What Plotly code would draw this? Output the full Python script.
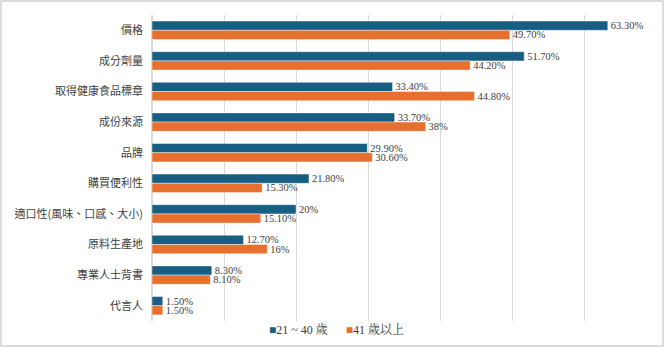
import plotly.graph_objects as go

categories = ["價格", "成分劑量", "取得健康食品標章", "成份來源", "品牌",
              "購買便利性", "適口性(風味、口感、大小)", "原料生產地", "專業人士背書", "代言人"]
series_names = ["21 ~ 40 歲", "41 歲以上"]
young = [63.3, 51.7, 33.4, 33.7, 29.9, 21.8, 20.0, 12.7, 8.3, 1.5]
older = [49.7, 44.2, 44.8, 38.0, 30.6, 15.3, 15.1, 16.0, 8.1, 1.5]
colors = ["#175E82", "#E8702F"]


def fmt(v):
    return f"{v:.0f}%" if float(v).is_integer() else f"{v:.2f}%"


FONT = "Liberation Serif, Noto Serif CJK TC, Noto Sans CJK TC, serif"

fig = go.Figure()
for name, vals, c in zip(series_names, [young, older], colors):
    fig.add_trace(go.Bar(
        y=categories, x=vals, orientation="h", name=name, showlegend=False,
        marker=dict(color=c, line=dict(color="rgba(255,255,255,0.7)", width=0.6)),
        text=[fmt(v) for v in vals], textposition="outside", cliponaxis=False,
        constraintext="none",
        textfont=dict(family=FONT, size=10.5, color="#404040"),
    ))

W, H = 665, 347
ml, mr, mt, mb = 152, 9, 15, 26
pw, ph = W - ml - mr, H - mt - mb

legend_text = "\u2003\u2002".join(
    f"<span style='color:{c}'>■</span>{n}" for n, c in zip(series_names, colors))

fig.update_layout(
    width=W, height=H,
    margin=dict(l=ml, r=mr, t=mt, b=mb, autoexpand=False),
    barmode="group", bargap=0.4, bargroupgap=0.0,
    plot_bgcolor="white", paper_bgcolor="white",
    font=dict(family=FONT, size=11, color="#404040"),
    showlegend=False,
    xaxis=dict(range=[0, 70], dtick=10, showticklabels=False, showgrid=True,
               gridcolor="#d9d9d9", gridwidth=1, zeroline=True, zerolinecolor="#d9d9d9",
               fixedrange=True),
    yaxis=dict(categoryorder="array", categoryarray=categories, autorange="reversed",
               ticks="", ticklabelstandoff=8,
               tickfont=dict(family="Noto Sans CJK TC", size=11, color="#404040")),
    annotations=[dict(text=legend_text, xref="paper", yref="paper",
                      x=(336 - ml) / pw, y=-(330 - mt - ph) / ph,
                      xanchor="center", yanchor="middle", showarrow=False,
                      font=dict(family=FONT, size=12, color="#404040"))],
    shapes=[dict(type="rect", xref="paper", yref="paper",
                 x0=-(ml - 1) / pw, x1=1 + (mr - 2) / pw,
                 y0=-(mb - 1) / ph, y1=1 + (mt - 1) / ph,
                 line=dict(color="#d0d0d0", width=1.5))],
)

fig.write_html("out.html")
